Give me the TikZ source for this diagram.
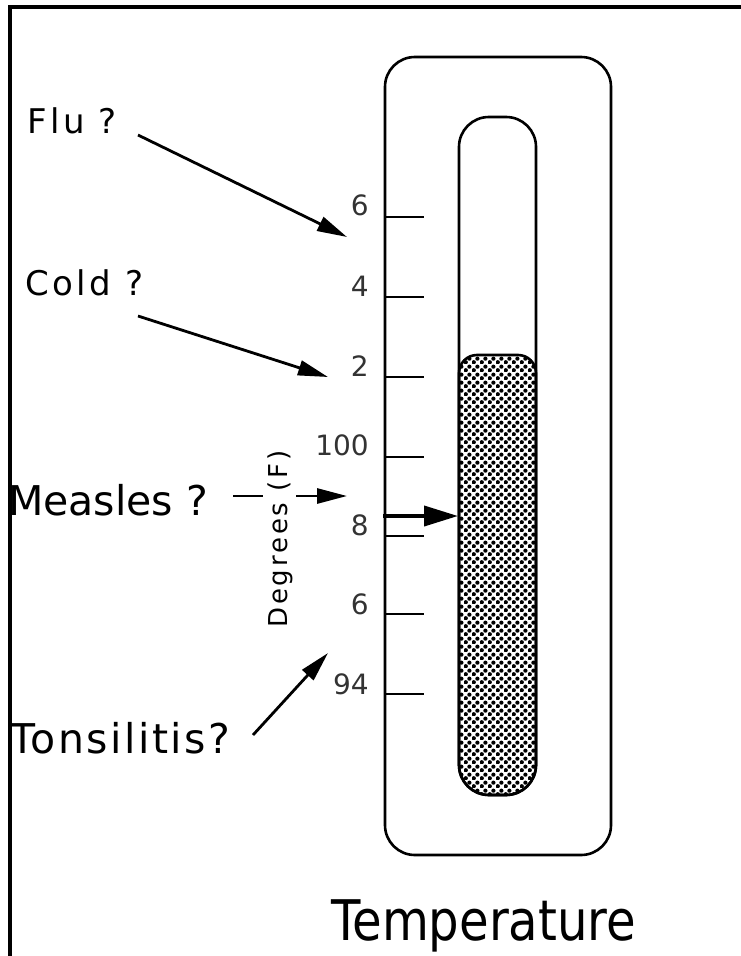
\documentclass[tikz,border=0pt]{standalone}
\usepackage{fontspec}
\setmainfont{DejaVu Sans}
\usetikzlibrary{arrows.meta,patterns.meta}
\tikzdeclarepattern{
  name=speckle,
  type=uncolored,
  bounding box={(0bp,0bp) and (8bp,8bp)},
  tile size={(8bp,8bp)},
  code={
    \fill (2bp,2bp) circle (2.35bp);
    \fill (6bp,6bp) circle (2.35bp);
  }
}
\tikzset{
  frame/.style={line width=3.2bp},
  body/.style={line width=2.6bp},
  mercury/.style={line width=2.6bp, pattern=speckle, pattern color=black},
  tick/.style={line width=2.6bp},
  pointer/.style={line width=2.8bp, -{Triangle[length=30bp,width=15bp]}},
  bigpointer/.style={line width=3.8bp, -{Triangle[length=34bp,width=20bp]}},
  question/.style={inner sep=0pt, anchor=base west,
    font=\fontsize{34bp}{38bp}\selectfont\addfontfeature{LetterSpace=10}},
  bigquestion/.style={inner sep=0pt, anchor=base west,
    font=\fontsize{41bp}{46bp}\selectfont},
  scalelbl/.style={inner sep=0pt, anchor=base east, text=black!80,
    font=\fontsize{28bp}{32bp}\selectfont},
  axislbl/.style={inner xsep=0pt, inner ysep=4bp, anchor=base west, rotate=90,
    fill=white, font=\fontsize{26bp}{30bp}\selectfont\addfontfeature{LetterSpace=11}},
  titlelbl/.style={inner sep=0pt, anchor=base west, xscale=0.86,
    font=\fontsize{56bp}{62bp}\selectfont}
}
\begin{document}
\begin{tikzpicture}[x=1bp,y=-1bp]
\useasboundingbox (0,0) rectangle (741,956);
\fill[white] (0,0) rectangle (741,956);
% frame
\draw[frame] (10,956) -- (10,7) -- (741,7);
% thermometer body
\draw[body, rounded corners=30] (385,57) rectangle (611,855);
\draw[body, rounded corners=30] (459,117) rectangle (536,795);
\draw[mercury] (459,765) -- (459,373) arc[start angle=180, end angle=270, radius=18]
  -- (518,355) arc[start angle=270, end angle=360, radius=18]
  -- (536,765) arc[start angle=0, end angle=90, radius=30]
  -- (489,795) arc[start angle=90, end angle=180, radius=30] -- cycle;
% ticks
\foreach \y in {217,297,377,457,536,614,694}
  \draw[tick] (385,\y) -- (424,\y);
% scale labels
\node[scalelbl] (s6a) at (369,215) {6};
\node[scalelbl] (s4) at (369,296) {4};
\node[scalelbl] (s2) at (369,376) {2};
\node[scalelbl] (s100) at (369,455) {100};
\node[scalelbl] (s8) at (369,535) {8};
\node[scalelbl] (s6b) at (369,614) {6};
\node[scalelbl] (s94) at (369,694) {94};
% question labels
\node[question] (flu) at (27,133) {Flu ?};
\node[question] (cold) at (25,295) {Cold ?};
\node[bigquestion] (measles) at (8,515) {Measles ?};
\node[bigquestion, font=\fontsize{41bp}{46bp}\selectfont\addfontfeature{LetterSpace=6}] (tons) at (10,753) {Tonsilitis?};
% connector end points
\coordinate (fluS) at (138,135);
\coordinate (fluT) at (347,237);
\coordinate (coldS) at (138,316);
\coordinate (coldT) at (328,377);
\coordinate (measS) at (233,496);
\coordinate (measT) at (347,496);
\coordinate (readS) at (383,516);
\coordinate (readT) at (458,516);
\coordinate (tonsS) at (253,735);
\coordinate (tonsT) at (328,653);
\draw[pointer] (fluS) -- (fluT);
\draw[pointer] (coldS) -- (coldT);
\draw[pointer] (measS) -- (measT);
\draw[pointer] (tonsS) -- (tonsT);
\draw[bigpointer] (readS) -- (readT);
% axis label
\node[axislbl] (deg) at (287,628) {Degrees (F)};
% title
\node[titlelbl] (title) at (331,940) {Temperature};
\end{tikzpicture}
\end{document}
